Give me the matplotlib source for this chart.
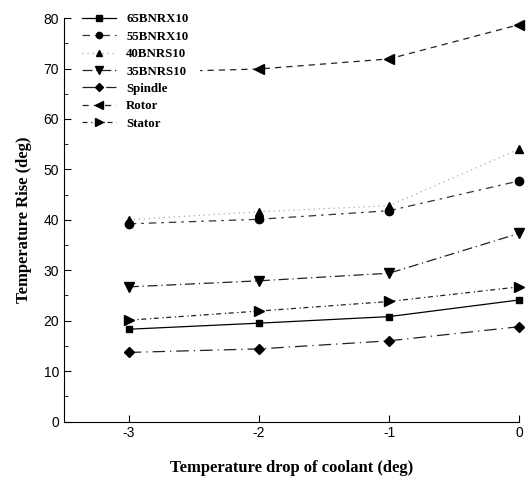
import matplotlib
matplotlib.use("Agg")
import matplotlib.pyplot as plt
from matplotlib.ticker import MultipleLocator

plt.rcParams["axes.unicode_minus"] = False

x = [-3, -2, -1, 0]
s65 = [18.3, 19.5, 20.8, 24.1]
s55 = [39.2, 40.1, 41.8, 47.7]
s40 = [40.0, 41.6, 42.8, 54.0]
s35 = [26.7, 27.9, 29.4, 37.3]
spindle = [13.7, 14.4, 16.0, 18.8]
rotor = [69.2, 69.9, 71.9, 78.7]
stator = [20.1, 21.9, 23.8, 26.7]

labels = ["65BNRX10", "55BNRX10", "40BNRS10", "35BNRS10", "Spindle", "Rotor", "Stator"]
series = [s65, s55, s40, s35, spindle, rotor, stator]
markers = ["s", "o", "^", "v", "D", "<", ">"]
styles = ["-", (0, (6, 4, 2, 4)), (0, (1, 3)), (0, (8, 3, 1, 3)), (0, (10, 4, 1, 4)), (0, (5, 4)), (0, (4, 3, 1, 2))]
colors = ["black", "#333333", "#aaaaaa", "#222222", "#222222", "#222222", "#222222"]
msizes = [5, 6, 6, 7, 5.5, 7, 7]

fig = plt.figure(figsize=(5.27, 4.82), dpi=100)
ax = fig.add_axes([0.121, 0.1255, 0.864, 0.837])

for lab, ys, m, ls, c, ms in zip(labels, series, markers, styles, colors, msizes):
    ax.plot(x, ys, linestyle=ls, color=c, linewidth=0.9, marker=m, markersize=ms,
            markerfacecolor="black", markeredgecolor="black", label=lab, clip_on=False)

ax.set_xlim(-3.5, 0)
ax.set_ylim(0, 80)
ax.set_xticks(x)
ax.set_yticks(range(0, 81, 10))
ax.yaxis.set_minor_locator(MultipleLocator(5))
ax.tick_params(direction="in", which="both", labelsize=10)
ax.tick_params(which="major", length=5)
ax.tick_params(which="minor", length=3)
for lab in ax.get_xticklabels() + ax.get_yticklabels():
    lab.set_family("Liberation Sans")
ax.spines["top"].set_visible(False)
ax.spines["right"].set_visible(False)

ax.set_xlabel("Temperature drop of coolant (deg)", family="Liberation Serif",
              fontweight="bold", fontsize=12, labelpad=14)
ax.set_ylabel("Temperature Rise (deg)", family="Liberation Serif",
              fontweight="bold", fontsize=12, labelpad=8)

leg = ax.legend(loc="upper left", bbox_to_anchor=(0.0035, 1.054), frameon=True,
                framealpha=1, edgecolor="white", fancybox=False, markerscale=0.75,
                prop={"family": "Liberation Serif", "weight": "bold", "size": 9.3},
                handlelength=2.6, labelspacing=0.42, borderpad=0.8, handletextpad=0.8)

fig.savefig("out.png", dpi=100)
